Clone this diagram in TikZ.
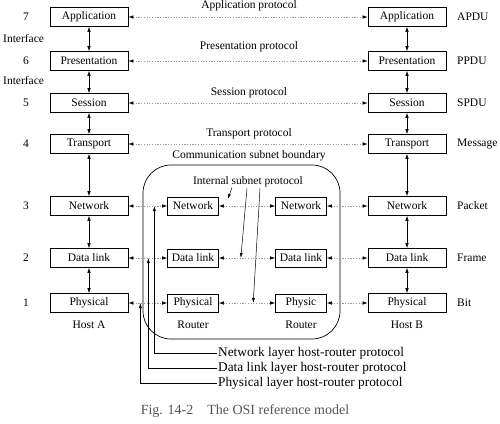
\documentclass[tikz,border=0pt]{standalone}
\usepackage{fontspec}
\setmainfont{Liberation Serif}
\usetikzlibrary{arrows.meta, calc}
\definecolor{punteado}{HTML}{9A9A9A}
\definecolor{pie}{HTML}{555555}
\tikzset{
  layerbox/.style={rectangle, draw=black, fill=white, line width=0.7pt, minimum width=78pt,
                   minimum height=19pt, inner sep=0pt, font=\fontsize{11.5}{13}\selectfont},
  routerbox/.style={rectangle, draw=black, fill=white, line width=0.7pt, minimum width=51pt,
                    minimum height=18pt, inner sep=0pt, font=\fontsize{11.5}{13}\selectfont},
  lbl/.style={font=\fontsize{11.5}{13}\selectfont, inner sep=1pt},
  proto/.style={draw=punteado, dash pattern=on 1.2pt off 1.5pt, line width=0.6pt,
                {Latex[length=5pt,width=3.5pt,color=black]}-{Latex[length=5pt,width=3.5pt,color=black]}},
  updown/.style={line width=0.6pt, {Latex[length=5pt,width=3.5pt]}-{Latex[length=5pt,width=3.5pt]}},
  hrline/.style={line width=0.5pt, -{Latex[length=5pt,width=3pt]}}
}

\begin{document}
\begin{tikzpicture}[x=1pt, y=-1pt]
  \useasboundingbox (0,0) rectangle (500,423);
  % subnet boundary
  \node (subnet) [draw, line width=0.7pt, rounded corners=28pt, minimum width=197pt, minimum height=174pt] at (241.5,252) {};
  \node (csb) [lbl] at (249,156) {Communication subnet boundary};
  \node (isp) [lbl] at (248,182) {Internal subnet protocol};
  % host layers
  \foreach \n/\y/\t/\u in {7/17/Application/APDU, 6/61/Presentation/PPDU, 5/103/Session/SPDU,
                           4/144/Transport/Message, 3/206/Network/Packet, 2/258/Data link/Frame, 1/303/Physical/Bit} {
    \node (a\n) [layerbox] at (89,\y) {\t};
    \node (b\n) [layerbox] at (407,\y) {\t};
    \node (num\n) [lbl] at (26,\y) {\n};
    \node (pdu\n) [lbl, anchor=west] at (456,\y) {\u};
  }
  \node (if1) [lbl, anchor=west] at (2,39) {Interface};
  \node (if2) [lbl, anchor=west] at (2,81) {Interface};
  % routers
  \foreach \n/\y/\t/\u in {3/206/Network/Network, 2/258/Data link/Data link, 1/303/Physical/Physic} {
    \node (r\n) [routerbox] at (193,\y) {\t};
    \node (s\n) [routerbox] at (301,\y) {\u};
  }
  \node (hosta) [lbl] at (89,325) {Host A};
  \node (rta) [lbl] at (193,325) {Router};
  \node (rtb) [lbl] at (301,325) {Router};
  \node (hostb) [lbl] at (407,325) {Host B};
  % vertical interfaces
  \foreach \n/\m in {7/6, 6/5, 5/4, 4/3, 3/2, 2/1} {
    \draw [updown] (a\n) -- (a\m);
    \draw [updown] (b\n) -- (b\m);
  }
  % peer protocols
  \foreach \n/\y/\t in {7/6/Application, 6/47/Presentation, 5/93/Session, 4/134/Transport} {
    \node (p\n) [lbl] at (249,\y) {\t\ protocol};
    \draw [proto] (a\n) -- (b\n);
  }
  \foreach \n in {3,2,1} {
    \draw [proto] (a\n) -- (r\n);
    \draw [proto] (r\n) -- (s\n);
    \draw [proto] (s\n) -- (b\n);
  }
  % internal subnet protocol
  \coordinate (k3) at ($(r3.east)!0.16!(s3.west)+(0,-7)$);
  \coordinate (k2) at ($(r2.east)!0.39!(s2.west)$);
  \coordinate (k1) at ($(r1.east)!0.61!(s1.west)$);
  \draw [hrline] ($(isp.south)+(-16,-1)$) -- (k3);
  \draw [hrline] ($(isp.south)+(-1,0)$) -- (k2);
  \draw [hrline] ($(isp.south)+(12,0)$) -- (k1);
  % host-router protocols
  \node (hrn) [lbl, anchor=west, font=\fontsize{13.3}{15}\selectfont] at (217,353) {Network layer host-router protocol};
  \node (hrd) [lbl, anchor=west, font=\fontsize{13.3}{15}\selectfont] at (217,368) {Data link layer host-router protocol};
  \node (hrp) [lbl, anchor=west, font=\fontsize{13.3}{15}\selectfont] at (217,383) {Physical layer host-router protocol};
  \draw [hrline] (hrn.west) -| ($(a3.east)+(26,0)$);
  \draw [hrline] (hrd.west) -| ($(a2.east)+(20,0)$);
  \draw [hrline] (hrp.west) -| ($(a1.east)+(12,0)$);
  % caption
  \node (cap) [lbl, text=pie, font=\fontsize{14}{16}\selectfont] at (245,411) {Fig. 14-2\quad The OSI reference model};
\end{tikzpicture}
\end{document}
